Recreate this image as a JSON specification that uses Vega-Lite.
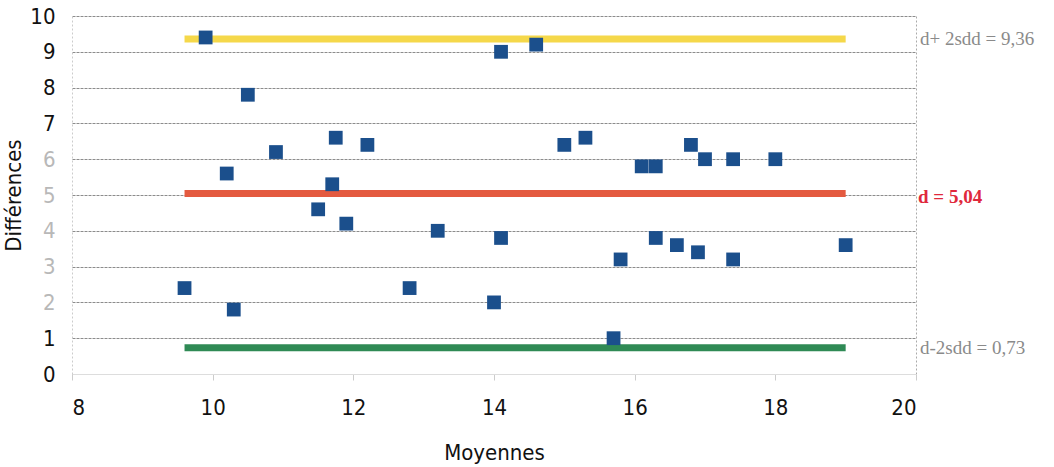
{
  "$schema": "https://vega.github.io/schema/vega-lite/v6.json",
  "width": 844,
  "height": 358,
  "autosize": "none",
  "padding": {"left": 72, "top": 16, "right": 138, "bottom": 93},
  "background": "white",
  "view": {"stroke": null},
  "datasets": {
    "points": [
      {"moyenne": 9.6, "diff": 2.4},
      {"moyenne": 9.9, "diff": 9.4},
      {"moyenne": 10.2, "diff": 5.6},
      {"moyenne": 10.3, "diff": 1.8},
      {"moyenne": 10.5, "diff": 7.8},
      {"moyenne": 10.9, "diff": 6.2},
      {"moyenne": 11.5, "diff": 4.6},
      {"moyenne": 11.7, "diff": 5.3},
      {"moyenne": 11.75, "diff": 6.6},
      {"moyenne": 11.9, "diff": 4.2},
      {"moyenne": 12.2, "diff": 6.4},
      {"moyenne": 12.8, "diff": 2.4},
      {"moyenne": 13.2, "diff": 4.0},
      {"moyenne": 14.0, "diff": 2.0},
      {"moyenne": 14.1, "diff": 9.0},
      {"moyenne": 14.1, "diff": 3.8},
      {"moyenne": 14.6, "diff": 9.2},
      {"moyenne": 15.0, "diff": 6.4},
      {"moyenne": 15.3, "diff": 6.6},
      {"moyenne": 15.7, "diff": 1.0},
      {"moyenne": 15.8, "diff": 3.2},
      {"moyenne": 16.1, "diff": 5.8},
      {"moyenne": 16.3, "diff": 5.8},
      {"moyenne": 16.3, "diff": 3.8},
      {"moyenne": 16.6, "diff": 3.6},
      {"moyenne": 16.8, "diff": 6.4},
      {"moyenne": 16.9, "diff": 3.4},
      {"moyenne": 17.0, "diff": 6.0},
      {"moyenne": 17.4, "diff": 6.0},
      {"moyenne": 17.4, "diff": 3.2},
      {"moyenne": 18.0, "diff": 6.0},
      {"moyenne": 19.0, "diff": 3.6}
    ],
    "lines": [
      {"kind": "upper", "start": 9.6, "end": 19.0, "value": 9.36, "label": "d+ 2sdd = 9,36"},
      {"kind": "mean", "start": 9.6, "end": 19.0, "value": 5.04, "label": "d = 5,04"},
      {"kind": "lower", "start": 9.6, "end": 19.0, "value": 0.73, "label": "d-2sdd = 0,73"}
    ]
  },
  "encoding": {
    "x": {
      "type": "quantitative",
      "scale": {"domain": [8, 20], "nice": false, "zero": false},
      "axis": {
        "title": "Moyennes",
        "values": [8, 10, 12, 14, 16, 18, 20],
        "labelFont": "'DejaVu Sans Condensed', Roboto, sans-serif",
        "labelFontSize": 22,
        "labelColor": "#111",
        "labelPadding": 17,
        "titleFont": "'DejaVu Sans Condensed', Roboto, sans-serif",
        "titleFontSize": 22,
        "titleFontWeight": "normal",
        "titleColor": "#111",
        "titlePadding": 24,
        "domainColor": "#dddddd",
        "tickColor": "#cccccc",
        "tickSize": 6,
        "grid": true,
        "gridColor": "#aaaaaa",
        "gridDash": [2, 2],
        "gridOpacity": {"expr": "datum.value == 20 ? 1 : 0"}
      }
    },
    "y": {
      "type": "quantitative",
      "scale": {"domain": [0, 10], "nice": false},
      "axis": {
        "title": "Différences",
        "values": [0, 1, 2, 3, 4, 5, 6, 7, 8, 9, 10],
        "labelFont": "'DejaVu Sans Condensed', Roboto, sans-serif",
        "labelFontSize": 22,
        "labelColor": {"expr": "datum.value >= 2 && datum.value <= 6 ? '#b8b8b8' : '#111'"},
        "labelPadding": 17,
        "titleFont": "'DejaVu Sans Condensed', Roboto, sans-serif",
        "titleFontSize": 22,
        "titleFontWeight": "normal",
        "titleColor": "#111",
        "titlePadding": 4,
        "domainColor": "#cccccc",
        "domainDash": [2, 2],
        "ticks": false,
        "grid": true,
        "gridColor": "#8c8c8c",
        "gridDash": [3, 1],
        "gridWidth": 1
      }
    }
  },
  "layer": [
    {
      "data": {"name": "lines"},
      "mark": {"type": "rule", "strokeWidth": 7, "strokeCap": "butt"},
      "encoding": {
        "x": {"field": "start", "type": "quantitative"},
        "x2": {"field": "end"},
        "y": {"field": "value", "type": "quantitative"},
        "color": {
          "field": "kind",
          "type": "nominal",
          "scale": {"domain": ["upper", "mean", "lower"], "range": ["#f5d84a", "#e45a40", "#2f8a55"]},
          "legend": null
        }
      }
    },
    {
      "data": {"name": "points"},
      "mark": {"type": "square", "size": 190, "opacity": 1, "filled": true, "color": "#1b4f8c"},
      "encoding": {
        "x": {"field": "moyenne", "type": "quantitative"},
        "y": {"field": "diff", "type": "quantitative"}
      }
    },
    {
      "data": {"name": "lines"},
      "transform": [{"filter": "datum.kind !== 'mean'"}],
      "mark": {"type": "text", "align": "left", "baseline": "middle", "dx": 4, "font": "Liberation Serif", "fontSize": 19, "color": "#8a8a8a"},
      "encoding": {
        "x": {"datum": 20, "type": "quantitative"},
        "y": {"field": "value", "type": "quantitative"},
        "text": {"field": "label"}
      }
    },
    {
      "data": {"name": "lines"},
      "transform": [{"filter": "datum.kind === 'mean'"}],
      "mark": {"type": "text", "align": "left", "baseline": "middle", "dx": 2, "dy": 3, "font": "Liberation Serif", "fontSize": 19, "fontWeight": "bold", "color": "#e0283c"},
      "encoding": {
        "x": {"datum": 20, "type": "quantitative"},
        "y": {"field": "value", "type": "quantitative"},
        "text": {"field": "label"}
      }
    }
  ]
}
